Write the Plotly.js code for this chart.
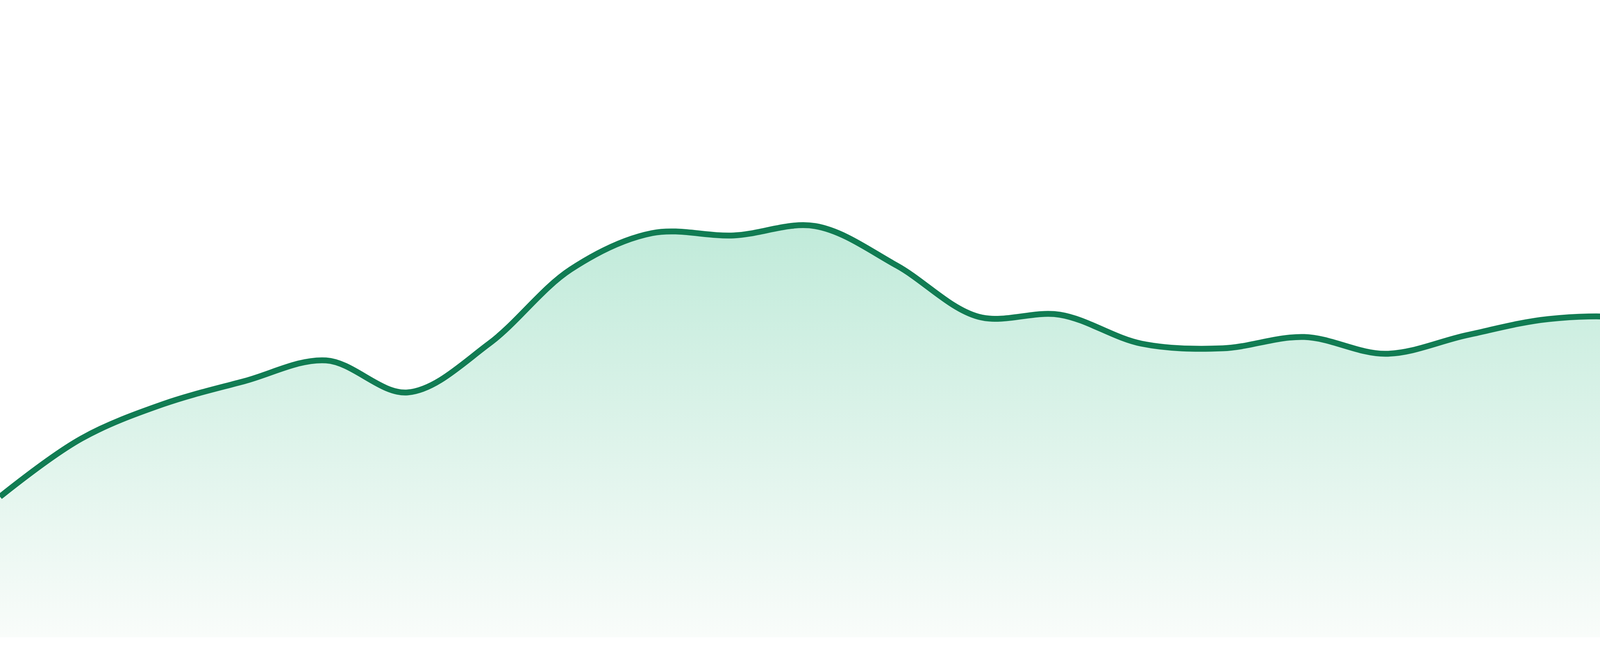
<!DOCTYPE html>
<html>
<head>
<meta charset="utf-8">
<script src="https://cdn.plot.ly/plotly-3.0.1.min.js"></script>
<style>
  html, body { margin: 0; padding: 0; background: #ffffff; }
  #chart { width: 4800px; height: 1680px; }
</style>
</head>
<body>
<div id="chart"></div>
<script>
// Data (24 points, 23 equal steps across the width)
const periods = [0, 1, 2, 3, 4, 5, 6, 7, 8, 9, 10, 11, 12, 13, 14, 15, 16, 17, 18, 19, 20, 21, 22, 23];
const values  = [360, 509, 597, 656, 709, 627, 752, 942, 1035, 1029, 1053, 952,
                 821, 826, 752, 740, 769, 726, 774, 815, 817, 766, 1430, 1339];

const trace = {
  type: 'scatter',
  mode: 'lines',
  x: periods,
  y: values,
  line: { color: '#117c53', width: 15, shape: 'spline', smoothing: 1 },
  fill: 'tozeroy',
  fillgradient: {
    type: 'vertical',
    start: 0,
    stop: 1430,
    colorscale: [[0, '#f9fcfa'], [1, '#ace4ce']]
  },
  hoverinfo: 'skip'
};

const layout = {
  width: 4800,
  height: 1680,
  margin: { l: 0, r: 0, t: 0, b: 48, pad: 0 },
  paper_bgcolor: '#ffffff',
  plot_bgcolor: '#ffffff',
  showlegend: false,
  xaxis: { range: [0, 23], visible: false, fixedrange: true },
  yaxis: { range: [0, 1632], visible: false, fixedrange: true }
};

Plotly.newPlot('chart', [trace], layout, { displayModeBar: false, staticPlot: true });
</script>
</body>
</html>
